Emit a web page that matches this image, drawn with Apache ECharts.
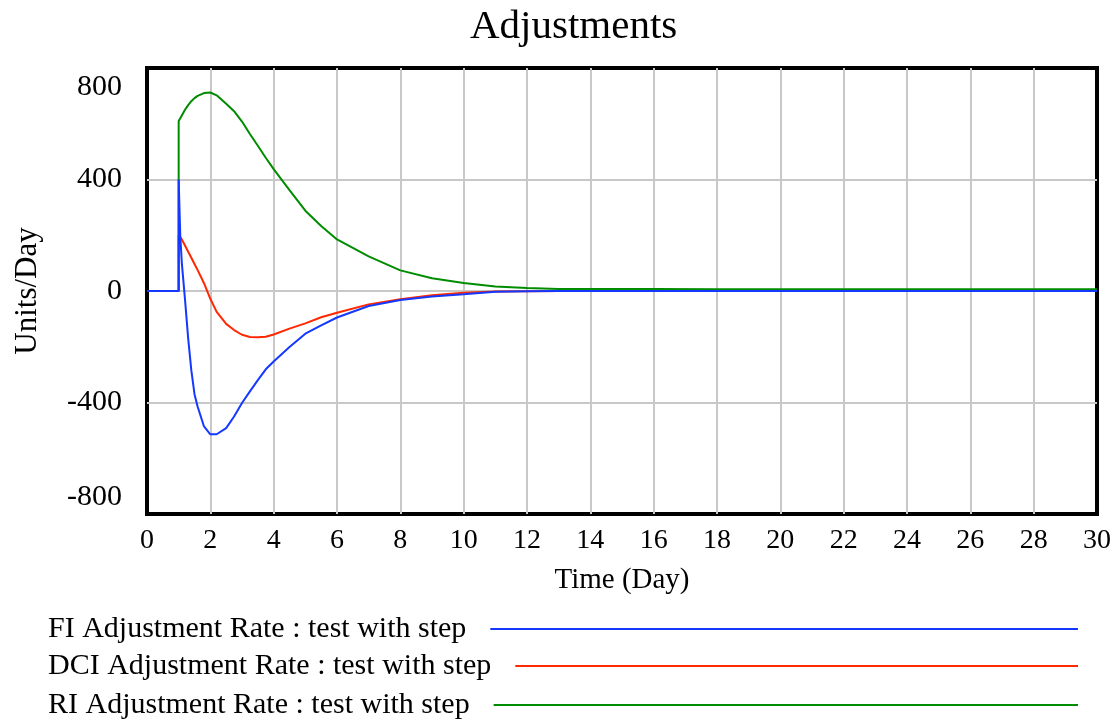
<!DOCTYPE html>
<html>
<head>
<meta charset="utf-8">
<script src="https://cdn.jsdelivr.net/npm/echarts@6/dist/echarts.min.js"></script>
<style>
html,body{margin:0;padding:0;background:#fff;}
#chart{width:1117px;height:721px;}
</style>
</head>
<body>
<div id="chart"></div>
<script>
const chartTitle = 'Adjustments';
const xAxisName = 'Time (Day)';
const yAxisName = 'Units/Day';
const seriesNames = [
  'FI Adjustment Rate : test with step',
  'DCI Adjustment Rate : test with step',
  'RI Adjustment Rate : test with step'
];
const time = [0, 1, 1, 1.05, 1.1, 1.2, 1.3, 1.4, 1.5, 1.6, 1.8, 2, 2.2, 2.5, 2.75, 3, 3.25, 3.5, 3.75, 4, 4.5, 5, 5.5, 6, 7, 8, 9, 10, 11, 12, 13, 14, 16, 18, 20, 22, 24, 26, 28, 30];
const fiValues = [0, 0, 400, 200, 100, -30, -170, -285, -370, -415, -486, -514, -514, -492, -450, -402, -360, -320, -281, -253, -201, -153, -123, -95, -54, -32, -20, -12, -3, -1, 0, 0, 0, 0, 0, 0, 0, 0, 0, 0];
const dciValues = [0, 0, 200, 195, 185, 163, 141, 119, 97, 75, 28, -28, -75, -118, -140, -157, -165, -166, -164, -156, -135, -116, -94, -78, -48, -30, -15, -6, -2, -1, 0, 0, 0, 0, 0, 0, 0, 0, 0, 0];
const riValues = [0, 0, 610, 620, 630, 650, 667, 681, 692, 700, 710, 712, 702, 672, 645, 608, 563, 521, 478, 437, 362, 288, 233, 185, 124, 74, 46, 29, 16, 11, 7, 7, 7, 6, 6, 6, 6, 6, 6, 6];
const seriesColors = ['#1438ff', '#ff2800', '#008c00'];

const FONT = '"Liberation Serif", "Times New Roman", serif';
const chart = echarts.init(document.getElementById('chart'), null, {renderer: 'canvas'});

function measure(text, size) {
  const ctx = document.createElement('canvas').getContext('2d');
  ctx.font = size + 'px ' + FONT;
  return ctx.measureText(text).width;
}

const legendFont = 30;
const legendLeft = 48;
const legendLineEnd = 1078;
const legendGap = 24;
const legendRows = [629, 666, 705];
const legends = seriesNames.map((n, i) => {
  const tw = measure(n, legendFont);
  return {
    data: [{name: n, icon: 'rect'}],
    left: legendLeft - 5,
    top: legendRows[i] - 5 - 16,
    align: 'right',
    selectedMode: false,
    itemWidth: Math.max(20, legendLineEnd - legendLeft - tw - legendGap),
    itemHeight: 2,
    textStyle: {fontSize: legendFont, fontFamily: FONT, color: '#000', lineHeight: 32, padding: [0, legendGap - 5, 0, 0]}
  };
});

function pairs(vals) { return time.map((t, i) => [t, vals[i]]); }
const valueSets = [fiValues, dciValues, riValues];
const order = [2, 1, 0];
const series = order.map(i => ({
  name: seriesNames[i],
  type: 'line',
  data: pairs(valueSets[i]),
  showSymbol: false,
  symbol: 'none',
  color: seriesColors[i],
  lineStyle: {width: 2, color: seriesColors[i]},
  z: 3 + (2 - i)
}));

const titleSize = 41;
const titleLeft = 470;

chart.setOption({
  animation: false,
  backgroundColor: '#fff',
  title: {
    text: chartTitle,
    left: titleLeft - 5,
    top: 2,
    textStyle: {fontFamily: FONT, fontSize: titleSize, fontWeight: 'normal', color: '#000'}
  },
  legend: legends,
  grid: {
    left: 147, top: 68, right: 20, bottom: 207,
    show: true, borderColor: '#000', borderWidth: 4, containLabel: false
  },
  xAxis: {
    type: 'value', min: 0, max: 30, interval: 2,
    name: xAxisName, nameLocation: 'middle', nameGap: 52,
    nameTextStyle: {fontFamily: FONT, fontSize: 29, color: '#000'},
    axisLine: {show: false}, axisTick: {show: false},
    axisLabel: {fontFamily: FONT, fontSize: 28, color: '#000', margin: 13},
    splitLine: {show: true, showMinLine: false, showMaxLine: false, lineStyle: {color: '#c8c8c8', width: 2}}
  },
  yAxis: {
    type: 'value', min: -800, max: 800, interval: 400,
    name: yAxisName, nameLocation: 'middle', nameGap: 104, nameRotate: 90,
    nameTextStyle: {fontFamily: FONT, fontSize: 31, color: '#000'},
    axisLine: {show: false}, axisTick: {show: false},
    axisLabel: {
      fontFamily: FONT, fontSize: 30, color: '#000', margin: 25,
      formatter: v => v === 800 ? '{top|800}' : (v === -800 ? '{bot|-800}' : String(v)),
      rich: {
        top: {fontFamily: FONT, fontSize: 30, color: '#000', padding: [38, 0, 0, 0]},
        bot: {fontFamily: FONT, fontSize: 30, color: '#000', padding: [0, 0, 34, 0]}
      }
    },
    splitLine: {show: true, showMinLine: false, showMaxLine: false, lineStyle: {color: '#c8c8c8', width: 2}}
  },
  series: series
});
</script>
</body>
</html>
